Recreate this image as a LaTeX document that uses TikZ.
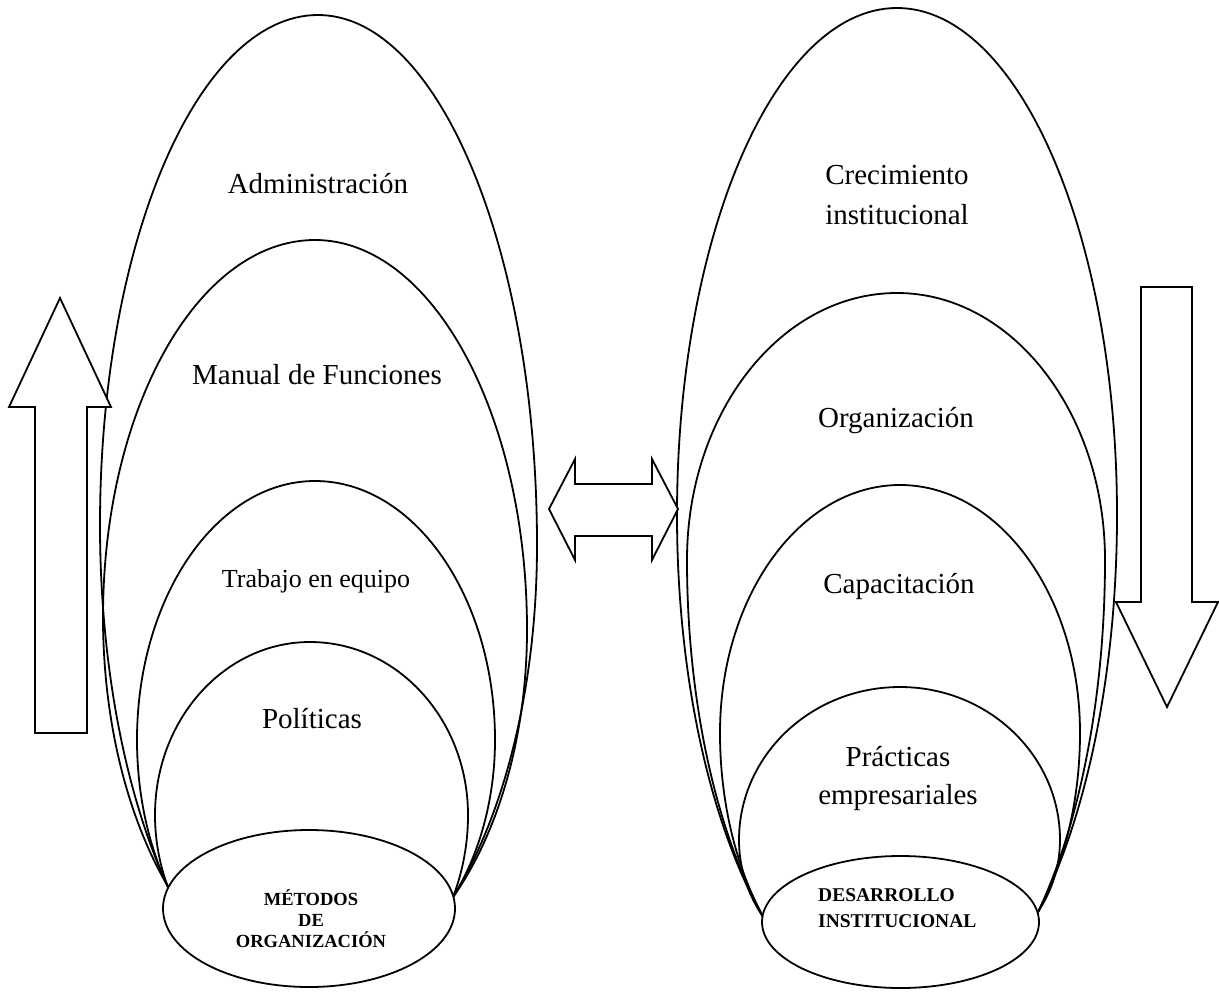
\documentclass[tikz,border=0pt]{standalone}
\usepackage{fontspec}
\setmainfont{Liberation Serif}
\usetikzlibrary{shapes.geometric}

\begin{document}
\begin{tikzpicture}[x=1pt,y=-1pt,
  line/.style={draw=black,line width=1.8pt},
  blockarrow/.style={line,fill=white,line join=miter},
  base/.style={line,fill=white,ellipse,inner sep=0pt},
  bigword/.style={inner sep=0pt,font=\fontsize{29}{40}\selectfont},
  tagword/.style={inner sep=0pt,font=\bfseries\fontsize{18.5}{21}\selectfont}
]
\useasboundingbox (0,0) rectangle (1219,994);

% ---- left group: nested egg shapes, top down to the base ellipse
\draw[line] (318,15) arc[start angle=270,end angle=180,x radius=218,y radius=510]
                      arc[start angle=180,end angle=127,x radius=218,y radius=499]
            (318,15) arc[start angle=270,end angle=360,x radius=219,y radius=530]
                      arc[start angle=0,end angle=57,x radius=219,y radius=447];
\draw[line] (315,240) arc[start angle=270,end angle=180,x radius=212,y radius=377]
                       arc[start angle=180,end angle=128,x radius=212,y radius=374]
            (315,240) arc[start angle=270,end angle=360,x radius=212,y radius=390]
                       arc[start angle=0,end angle=55,x radius=212,y radius=352];
\draw[line] (315,481) arc[start angle=270,end angle=180,x radius=178,y radius=259]
                       arc[start angle=180,end angle=140,x radius=178,y radius=261]
            (315,481) arc[start angle=270,end angle=360,x radius=180,y radius=259]
                       arc[start angle=0,end angle=46,x radius=180,y radius=245];
\draw[line] (310,642) arc[start angle=270,end angle=180,x radius=155,y radius=173]
                       arc[start angle=180,end angle=150,x radius=155,y radius=180]
            (310,642) arc[start angle=270,end angle=360,x radius=158,y radius=173]
                       arc[start angle=0,end angle=32,x radius=158,y radius=193];

% ---- right group
\draw[line] (897,8) arc[start angle=270,end angle=180,x radius=220,y radius=507]
                     arc[start angle=180,end angle=122,x radius=220,y radius=507]
            (897,8) arc[start angle=270,end angle=360,x radius=220,y radius=507]
                     arc[start angle=0,end angle=56,x radius=220,y radius=517];
\draw[line] (897,293) arc[start angle=270,end angle=180,x radius=210,y radius=267]
                       arc[start angle=180,end angle=125,x radius=210,y radius=463]
            (897,293) arc[start angle=270,end angle=360,x radius=208,y radius=267]
                       arc[start angle=0,end angle=52,x radius=208,y radius=479];
\draw[line] (900,485) arc[start angle=270,end angle=180,x radius=180,y radius=248]
                       arc[start angle=180,end angle=134,x radius=180,y radius=283]
            (900,485) arc[start angle=270,end angle=360,x radius=180,y radius=248]
                       arc[start angle=0,end angle=46,x radius=180,y radius=279];
\draw[line] (900,687) arc[start angle=270,end angle=180,x radius=161,y radius=153]
                       arc[start angle=180,end angle=142,x radius=161,y radius=146]
            (900,687) arc[start angle=270,end angle=360,x radius=160,y radius=153]
                       arc[start angle=0,end angle=37,x radius=160,y radius=142];

% ---- base ellipses
\node[base,minimum width=292,minimum height=157] (metodos) at (309,908.5) {};
\node[base,minimum width=277,minimum height=132] (desarrollo) at (900.5,922) {};

% ---- block arrows
\draw[blockarrow] (60,298) -- (111,407) -- (87,407) -- (87,733) -- (35,733)
  -- (35,407) -- (9,407) -- cycle;
\draw[blockarrow] (1167,707) -- (1218,602) -- (1192,602) -- (1192,287)
  -- (1141,287) -- (1141,602) -- (1116,602) -- cycle;
\draw[blockarrow] (549,509) -- (575,459) -- (575,484) -- (652,484) -- (652,459)
  -- (678,509) -- (652,560) -- (652,536) -- (575,536) -- (575,560) -- cycle;

% ---- labels
\node[bigword,anchor=base] (admin) at (318,193) {Administración};
\node[bigword,anchor=base] (manual) at (317,384) {Manual de Funciones};
\node[bigword,anchor=base,font=\fontsize{26}{30}\selectfont] (trabajo) at (316,587) {Trabajo en equipo};
\node[bigword,anchor=base] (politicas) at (312,728) {Políticas};
\node[bigword,align=center] (crecimiento) at (897,195) {Crecimiento\\institucional};
\node[bigword,anchor=base] (organizacion) at (896,427) {Organización};
\node[bigword,anchor=base] (capacitacion) at (899,593) {Capacitación};
\node[bigword,align=center,font=\fontsize{29}{38}\selectfont] (practicas) at (898,778) {Prácticas\\empresariales};
\node[tagword,align=center] (metodos text) at (311,918.5) {MÉTODOS\\DE\\ORGANIZACIÓN};
\node[tagword,align=left,anchor=west,font=\bfseries\fontsize{19.5}{26}\selectfont] (desarrollo text) at (818,908.5) {DESARROLLO\\INSTITUCIONAL};
\end{tikzpicture}
\end{document}
